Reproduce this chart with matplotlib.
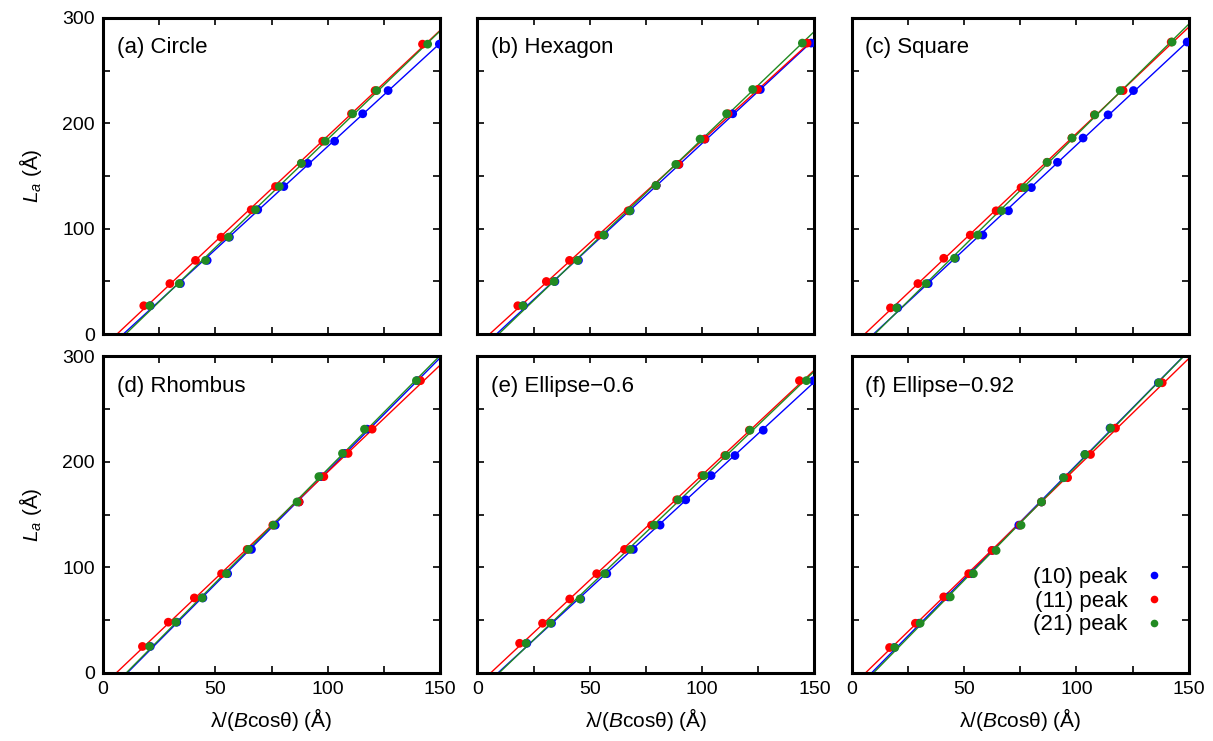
import numpy as np
import matplotlib
matplotlib.use("Agg")
import matplotlib.pyplot as plt
from matplotlib.lines import Line2D
from matplotlib.ticker import MultipleLocator

plt.rcParams["font.family"] = ["Liberation Sans", "DejaVu Sans"]
plt.rcParams["mathtext.fontset"] = "custom"
plt.rcParams["mathtext.it"] = "Liberation Sans:italic"
plt.rcParams["mathtext.rm"] = "Liberation Sans"

# panel titles
titles = ["(a) Circle", "(b) Hexagon", "(c) Square",
          "(d) Rhombus", "(e) Ellipse\u22120.6", "(f) Ellipse\u22120.92"]
series = ["(10) peak", "(11) peak", "(21) peak"]
colors = ["#0000ff", "#ff0000", "#228b22"]

# L_a (Å) per panel
la_a = [27, 48, 70, 92, 118, 140, 162, 183, 209, 231, 275]
la_b = [27, 50, 70, 94, 117, 141, 161, 185, 209, 232, 276]
la_c = [25, 48, 72, 94, 117, 139, 163, 186, 208, 231, 277]
la_d = [25, 48, 71, 94, 117, 140, 162, 186, 208, 231, 277]
la_e = [28, 47, 70, 94, 117, 140, 164, 187, 206, 230, 277]
la_f = [24, 47, 72, 94, 116, 140, 162, 185, 207, 232, 275]

# lambda/(B cos theta) (Å) for (10), (11), (21) peaks
a_10 = [21.0, 34.4, 46.3, 56.2, 68.8, 80.4, 91.0, 103.0, 115.5, 126.8, 149.6]
a_11 = [18.1, 29.7, 41.1, 52.5, 65.9, 76.7, 88.2, 97.7, 110.5, 121.0, 142.1]
a_21 = [20.8, 33.9, 45.6, 55.8, 67.8, 78.4, 88.2, 98.9, 111.0, 121.7, 144.4]

b_10 = [20.5, 34.5, 45.0, 56.5, 68.0, 79.6, 89.7, 101.3, 113.6, 125.9, 148.5]
b_11 = [18.0, 30.7, 41.0, 54.0, 67.1, 79.5, 89.6, 101.1, 111.6, 124.7, 146.7]
b_21 = [20.3, 34.2, 44.6, 56.3, 67.8, 79.5, 88.3, 99.1, 110.9, 122.5, 144.6]

c_10 = [20.5, 34.1, 46.2, 58.4, 69.8, 80.0, 91.6, 103.0, 114.1, 125.4, 149.3]
c_11 = [17.3, 29.5, 41.0, 52.8, 64.3, 75.4, 87.0, 98.0, 108.0, 120.8, 142.2]
c_21 = [20.1, 33.2, 45.8, 56.1, 66.7, 76.9, 87.0, 98.1, 108.2, 119.5, 142.6]

d_10 = [21.0, 32.8, 44.4, 55.4, 66.0, 76.6, 87.2, 97.0, 107.5, 117.5, 139.7]
d_11 = [17.5, 29.0, 40.6, 52.7, 64.1, 75.5, 87.2, 98.2, 109.0, 119.7, 141.2]
d_21 = [20.7, 32.4, 44.1, 54.9, 64.7, 75.8, 86.3, 96.0, 106.5, 116.3, 139.4]

e_10 = [22.0, 33.0, 46.0, 57.6, 69.4, 81.3, 92.7, 104.0, 114.6, 127.2, 149.6]
e_11 = [18.8, 29.0, 41.1, 53.1, 65.5, 77.5, 88.7, 99.9, 110.1, 121.0, 143.3]
e_21 = [21.7, 32.6, 45.7, 56.7, 68.0, 78.7, 89.3, 100.8, 110.6, 121.3, 146.4]

f_10 = [19.0, 30.0, 43.0, 53.5, 62.5, 74.4, 84.5, 94.3, 103.8, 115.0, 136.5]
f_11 = [16.9, 28.4, 41.0, 52.1, 62.5, 75.0, 84.5, 96.1, 106.3, 117.4, 138.2]
f_21 = [19.2, 30.5, 43.9, 54.2, 64.3, 75.4, 84.5, 94.3, 103.8, 115.2, 136.7]

panels = [
    (la_a, [a_10, a_11, a_21]),
    (la_b, [b_10, b_11, b_21]),
    (la_c, [c_10, c_11, c_21]),
    (la_d, [d_10, d_11, d_21]),
    (la_e, [e_10, e_11, e_21]),
    (la_f, [f_10, f_11, f_21]),
]

fig, axes = plt.subplots(2, 3, figsize=(12.13, 7.41), dpi=100,
                         sharex=True, sharey=True)
fig.subplots_adjust(left=0.085, right=0.98, bottom=0.092, top=0.976,
                    wspace=0.11, hspace=0.07)

xfit = np.array([0.0, 150.0])
for i, (ax, (la, xs)) in enumerate(zip(axes.flat, panels)):
    for xv, c in zip(xs, colors):
        k, b = np.polyfit(xv, la, 1)
        ax.plot(xfit, k * xfit + b, color=c, lw=1.0, zorder=2)
    for xv, c in zip(xs, colors):
        ax.scatter(xv, la, s=40, color=c, edgecolors="none", zorder=3)
    ax.set_xlim(0, 150)
    ax.set_ylim(0, 300)
    ax.xaxis.set_major_locator(MultipleLocator(50))
    ax.xaxis.set_minor_locator(MultipleLocator(25))
    ax.yaxis.set_major_locator(MultipleLocator(100))
    ax.yaxis.set_minor_locator(MultipleLocator(50))
    ax.tick_params(which="both", direction="in", top=True, right=True,
                   length=5, width=1.2, labelsize=14, pad=6)
    for sp in ax.spines.values():
        sp.set_linewidth(2.2)
    ax.text(0.04, 0.905, titles[i], transform=ax.transAxes, fontsize=16,
            va="center", ha="left")
    if i % 3 == 0:
        ax.set_ylabel(r"$L_a$ (Å)", fontsize=15, labelpad=13)
    if i >= 3:
        ax.set_xlabel(r"λ/($B$cosθ) (Å)", fontsize=15, labelpad=6)

handles = [Line2D([], [], ls="none", marker="o", ms=5.5, color=c,
                  markeredgewidth=0) for c in colors]
axes[1, 2].legend(handles, series, loc="lower right", frameon=False,
                  markerfirst=False, fontsize=16, handlelength=1.0,
                  handletextpad=0.7, labelspacing=0.12,
                  bbox_to_anchor=(0.99, 0.055))

fig.savefig("out.png", dpi=100)
